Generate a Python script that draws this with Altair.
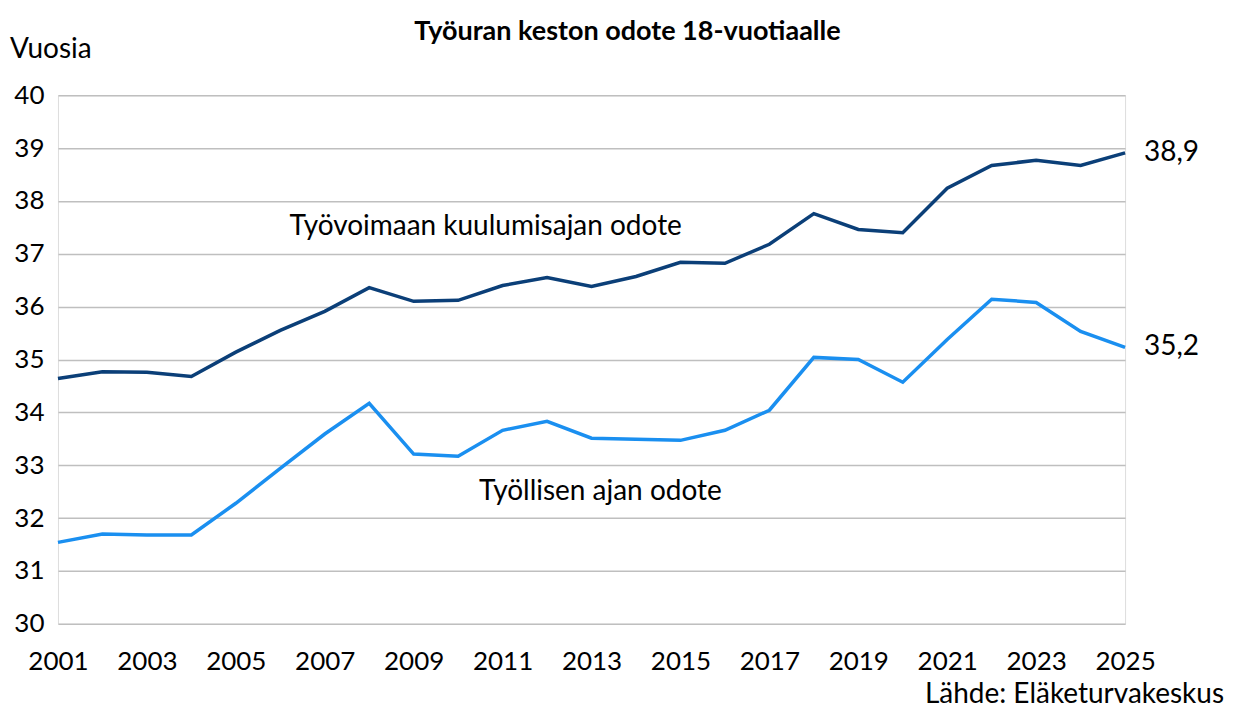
import altair as alt
import pandas as pd

years = list(range(2001, 2026))
labour_force = [34.64, 34.77, 34.76, 34.68, 35.14, 35.55, 35.91, 36.36, 36.10, 36.12,
                36.40, 36.55, 36.38, 36.57, 36.84, 36.82, 37.18, 37.76, 37.46, 37.40,
                38.24, 38.67, 38.77, 38.67, 38.91]
employed = [31.54, 31.70, 31.68, 31.68, 32.28, 32.94, 33.59, 34.17, 33.21, 33.17,
            33.66, 33.83, 33.51, 33.49, 33.47, 33.66, 34.04, 35.04, 35.00, 34.57,
            35.38, 36.14, 36.08, 35.53, 35.23]
series_names = ["Työvoimaan kuulumisajan odote", "Työllisen ajan odote"]
colors = ["#0B3F78", "#1A8FF0"]
end_labels = ["38,9", "35,2"]
label_years = [2010.62, 2013.2]
label_values = [37.5, 32.5]

FONT = "Lato"
TXT = 28

df = pd.DataFrame({
    "year": years * 2,
    "value": labour_force + employed,
    "series": [series_names[0]] * len(years) + [series_names[1]] * len(years),
})
ends = pd.DataFrame({
    "year": [years[-1], years[-1]],
    "value": [labour_force[-1], employed[-1]],
    "label": end_labels,
})
labels = pd.DataFrame({"year": label_years, "value": label_values, "label": series_names})

x = alt.X("year:Q", scale=alt.Scale(domain=[2001, 2025], nice=False, zero=False),
          axis=alt.Axis(values=list(range(2001, 2026, 2)), format="d", title=None,
                        grid=False, ticks=False, domain=False, labelFont=FONT,
                        labelFontSize=26, labelColor="#000", labelPadding=25,
                        labelFlush=False))
y = alt.Y("value:Q", scale=alt.Scale(domain=[30, 40], nice=False, zero=False),
          axis=alt.Axis(values=list(range(30, 41)), title=None, ticks=False, domain=False,
                        gridColor="#BFBFBF", gridWidth=1.5, labelFont=FONT,
                        labelFontSize=26, labelColor="#000", labelPadding=14))

lines = alt.Chart(df).mark_line(strokeWidth=3.5).encode(
    x=x, y=y,
    color=alt.Color("series:N", scale=alt.Scale(domain=series_names, range=colors), legend=None),
)

end_text = alt.Chart(ends).mark_text(align="left", dx=19, font=FONT, fontSize=TXT, color="#000").encode(
    x="year:Q", y="value:Q", text="label:N")

series_text = alt.Chart(labels).mark_text(align="center", font=FONT, fontSize=TXT, color="#000").encode(
    x="year:Q", y="value:Q", text="label:N")

title = alt.Chart(pd.DataFrame({"t": ["Työuran keston odote 18-vuotiaalle"]})).mark_text(
    align="center", baseline="middle", font=FONT, fontSize=27, fontWeight="bold", color="#000"
).encode(x=alt.value(570), y=alt.value(-63), text="t:N")

unit = alt.Chart(pd.DataFrame({"t": ["Vuosia"]})).mark_text(
    align="left", baseline="middle", font=FONT, fontSize=TXT, color="#000"
).encode(x=alt.value(-48), y=alt.value(-45), text="t:N")

source = alt.Chart(pd.DataFrame({"t": ["Lähde: Eläketurvakeskus"]})).mark_text(
    align="right", baseline="middle", font=FONT, fontSize=TXT, color="#000"
).encode(x=alt.value(1167), y=alt.value(600), text="t:N")

chart = alt.layer(lines, end_text, series_text, title, unit, source).properties(
    width=1068, height=529,
    autosize=alt.AutoSizeParams(type="none"),
    padding={"left": 50, "top": 87, "right": 100, "bottom": 86},
).configure_view(strokeWidth=0, strokeOpacity=0).configure(background="white")

chart.save("out.html", embed_options={"renderer": "svg", "actions": False})
